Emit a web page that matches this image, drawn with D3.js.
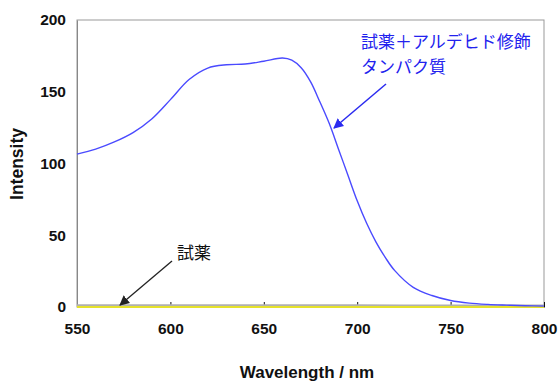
<!DOCTYPE html>
<html>
<head>
<meta charset="utf-8">
<script src="https://cdn.jsdelivr.net/npm/d3@7"></script>
<style>
  body { margin: 0; background: #fff; }
  svg text { font-family: "Liberation Sans", Arial, sans-serif; }
  .jp { font-family: "Noto Sans CJK JP", sans-serif; }
</style>
</head>
<body>
<div id="chart"></div>
<script>
// Fluorescence spectra: reagent + aldehyde-modified protein vs reagent only
const wavelength = [550, 560, 570, 580, 590, 600, 610, 620, 630, 640, 650, 660, 665, 670, 675, 680, 685, 690, 695, 700, 705, 710, 715, 720, 730, 740, 750, 760, 770, 780, 790, 800];
const modified   = [106.5, 110, 115, 121.5, 131, 144.5, 158.5, 166.5, 168.8, 169.3, 171.3, 173.5, 172, 166.7, 157, 143, 128, 110, 92, 74, 58.5, 45.4, 34.6, 25.5, 13.7, 8.0, 4.5, 2.7, 1.8, 1.3, 0.9, 0.6];
const reagentWl  = [550, 600, 650, 700, 750, 800];
const reagent    = [1.0, 1.1, 1.0, 1.0, 0.9, 0.9];
const blankWl    = [550, 800];
const blank      = [0, 0];
const xTicks = [550, 600, 650, 700, 750, 800];
const yTicks = [0, 50, 100, 150, 200];

const W = 558, H = 382;
const m = { left: 77, top: 20, right: 14, bottom: 75 };

const svg = d3.select('#chart').append('svg').attr('width', W).attr('height', H);

const x = d3.scaleLinear().domain([550, 800]).range([m.left, W - m.right]);
const y = d3.scaleLinear().domain([0, 200]).range([H - m.bottom, m.top]);

// plot frame
svg.append('rect')
  .attr('x', x(550)).attr('y', y(200))
  .attr('width', x(800) - x(550)).attr('height', y(0) - y(200))
  .attr('fill', 'none').attr('stroke', '#999').attr('stroke-width', 1);

// x axis, ticks pointing inward
const xAxis = svg.append('g').attr('transform', `translate(0,${y(0)})`)
  .call(d3.axisBottom(x).tickValues(xTicks).tickSize(-5).tickPadding(16).tickSizeOuter(0));
xAxis.select('.domain').attr('stroke', '#333');
xAxis.selectAll('.tick line').attr('stroke', '#111');
xAxis.selectAll('text').attr('font-size', 15.5).attr('font-weight', 'bold').attr('fill', '#111');

const yAxis = svg.append('g').attr('transform', `translate(${x(550)},0)`)
  .call(d3.axisLeft(y).tickValues(yTicks).tickSize(0).tickPadding(11));
yAxis.select('.domain').attr('stroke', '#888');
yAxis.selectAll('text').attr('font-size', 15.5).attr('font-weight', 'bold').attr('fill', '#111');

// series
const line = (xs, ys) => d3.line().x((d, i) => x(xs[i])).y(d => y(d)).curve(d3.curveCatmullRom.alpha(0.5))(ys);

svg.append('path').attr('d', line(reagentWl, reagent))
  .attr('fill', 'none').attr('stroke', '#b0b0b0').attr('stroke-width', 2.5);
svg.append('path').attr('d', line(blankWl, blank))
  .attr('fill', 'none').attr('stroke', '#e6e22a').attr('stroke-width', 2);
svg.append('path').attr('d', line(wavelength, modified))
  .attr('fill', 'none').attr('stroke', '#4a4aff').attr('stroke-width', 1.4);

// arrow markers
const defs = svg.append('defs');
[['arrBlue', '#2a2af0'], ['arrBlack', '#222']].forEach(([id, c]) => {
  defs.append('marker').attr('id', id).attr('viewBox', '0 -5 10 10')
    .attr('refX', 9).attr('refY', 0).attr('markerWidth', 10).attr('markerHeight', 10)
    .attr('markerUnits', 'userSpaceOnUse').attr('orient', 'auto')
    .append('path').attr('d', 'M0,-5L10,0L0,5Z').attr('fill', c);
});

// annotations
svg.append('line').attr('x1', 386).attr('y1', 84).attr('x2', 334).attr('y2', 128)
  .attr('stroke', '#2a2af0').attr('stroke-width', 1.5).attr('marker-end', 'url(#arrBlue)');
svg.append('line').attr('x1', 172).attr('y1', 261).attr('x2', 120).attr('y2', 305)
  .attr('stroke', '#222').attr('stroke-width', 1.3).attr('marker-end', 'url(#arrBlack)');

svg.append('text').attr('class', 'jp').attr('x', 361).attr('y', 48)
  .attr('font-size', 17).attr('fill', '#2222ee').text('試薬＋アルデヒド修飾');
svg.append('text').attr('class', 'jp').attr('x', 361).attr('y', 73)
  .attr('font-size', 17).attr('fill', '#2222ee').text('タンパク質');
svg.append('text').attr('class', 'jp').attr('x', 177).attr('y', 259)
  .attr('font-size', 17).attr('fill', '#111').text('試薬');

// axis titles
svg.append('text').attr('x', 307).attr('y', 378).attr('text-anchor', 'middle')
  .attr('font-size', 17).attr('font-weight', 'bold').attr('fill', '#111').text('Wavelength / nm');
svg.append('text').attr('transform', 'translate(23,164) rotate(-90)').attr('text-anchor', 'middle')
  .attr('font-size', 17.5).attr('font-weight', 'bold').attr('fill', '#111').text('Intensity');
</script>
</body>
</html>
